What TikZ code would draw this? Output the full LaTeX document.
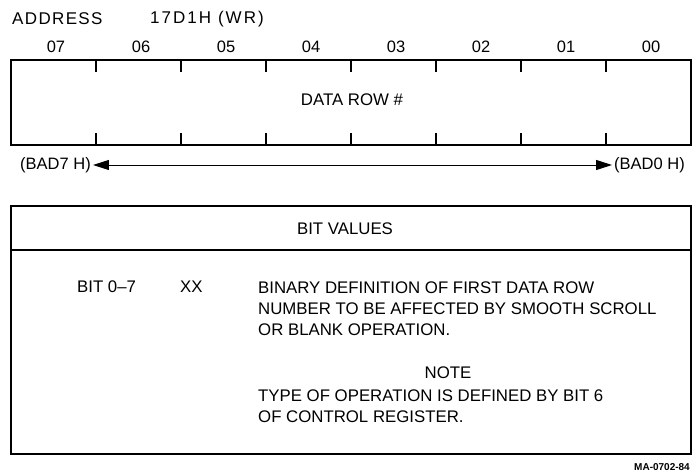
\documentclass[tikz,border=0pt]{standalone}
\usepackage{fontspec}
\setmainfont{Liberation Sans}
\usetikzlibrary{arrows.meta, positioning}
\tikzset{
  regbox/.style   = {line width=1.6pt, black},
  bittick/.style  = {line width=1.2pt, black},
  bitarrow/.style = {{Triangle[length=16pt,width=10pt]}-{Triangle[length=16pt,width=10pt]}, line width=1pt},
  hdr/.style      = {font=\fontsize{17}{20}\selectfont\addfontfeature{LetterSpace=8}, inner sep=0pt},
  bitnum/.style   = {font=\fontsize{16.5}{20}\selectfont, inner sep=0pt},
  lbl/.style      = {font=\fontsize{16.8}{21}\selectfont, inner sep=0pt},
  addr/.style     = {font=\fontsize{16.5}{20}\selectfont, inner sep=2pt},
  fig/.style      = {font=\bfseries\fontsize{10}{12}\selectfont, inner sep=0pt},
}
\begin{document}
\begin{tikzpicture}[x=1pt,y=-1pt]
  \useasboundingbox (0,0) rectangle (692,473);
  % header
  \node[hdr, anchor=west] (address) at (12,19) {ADDRESS};
  \node[hdr, anchor=west] (regaddr) at (150,19) {\addfontfeature{LetterSpace=12}17D1H (WR)};
  % register
  \foreach \b [count=\i from 0] in {07,06,05,04,03,02,01,00}
    \node[bitnum] (bit\b) at (11+85*\i+45,47) {\b};
  \draw[regbox] (11,60) rectangle (691,145);
  \foreach \i in {1,...,7} {
    \draw[bittick] (11+85*\i,60) -- ++(0,12);
    \draw[bittick] (11+85*\i,145) -- ++(0,-12);
  }
  \node[lbl] (field) at (352,100) {DATA ROW \#};
  % address range
  \node[addr, anchor=west] (lo) at (18,165) {(BAD7 H)};
  \node[addr, anchor=east] (hi) at (687,165) {(BAD0 H)};
  \draw[bitarrow] (lo.east) -- (hi.west);
  % bit values
  \draw[regbox] (11,206) rectangle (691,454);
  \draw[regbox] (11,250) -- (691,250);
  \node[lbl] (values) at (345,229) {BIT VALUES};
  \node[lbl, anchor=west] (bits) at (77,287) {BIT 0--7};
  \node[lbl, anchor=west] (xx) at (180,287) {XX};
  \node[lbl, anchor=north west, align=left] (desc) at (258,281.5)
    {BINARY DEFINITION OF FIRST DATA ROW\\
     NUMBER TO BE AFFECTED BY SMOOTH SCROLL\\
     OR BLANK OPERATION.};
  \node[lbl] (note) at (448,373) {NOTE};
  \node[lbl, anchor=north west, align=left] (notetext) at (258,389.5)
    {TYPE OF OPERATION IS DEFINED BY BIT 6\\
     OF CONTROL REGISTER.};
  \node[fig, anchor=east] (figno) at (690,467) {MA-0702-84};
\end{tikzpicture}
\end{document}
